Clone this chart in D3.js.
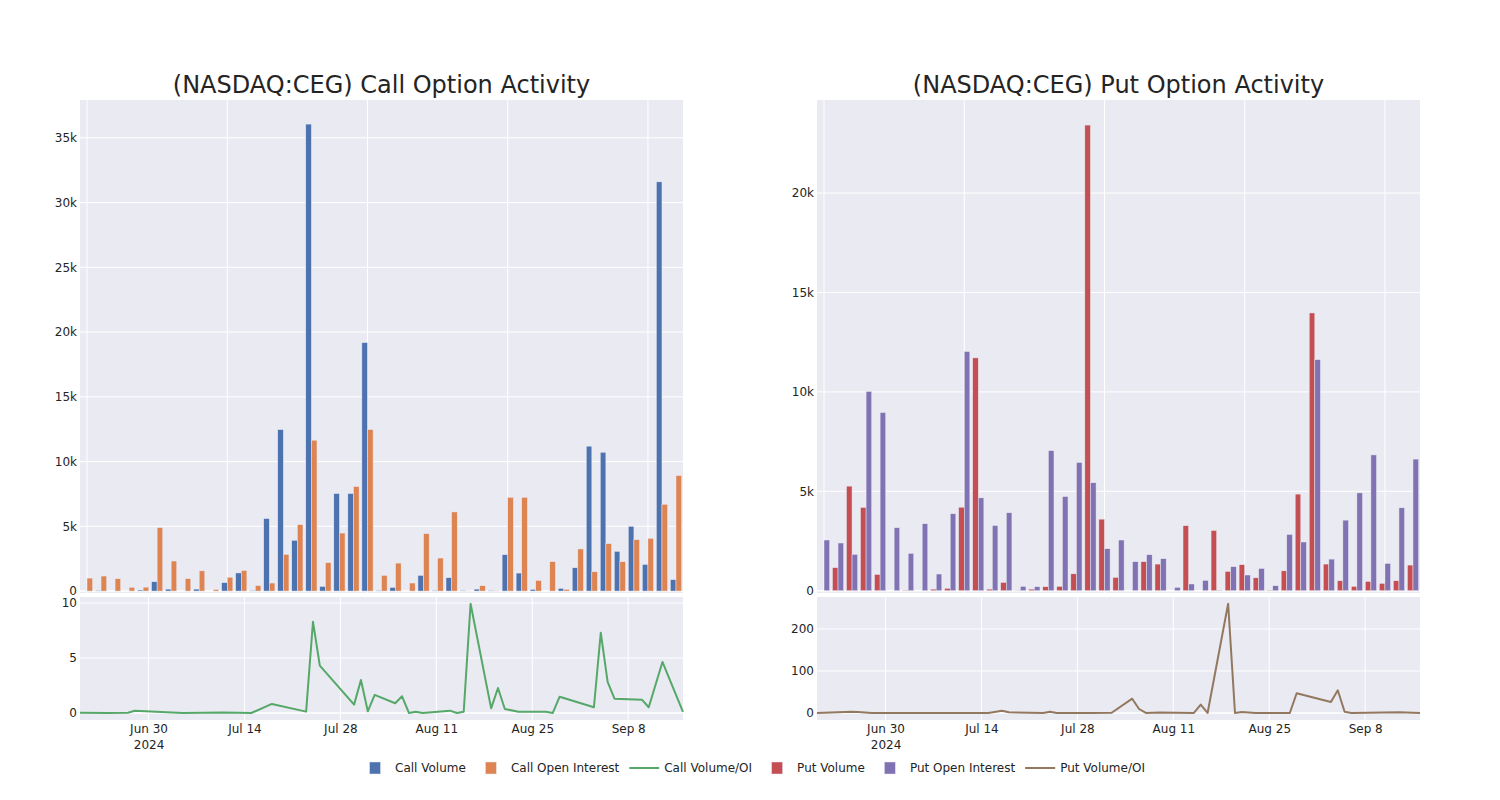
<!DOCTYPE html>
<html><head><meta charset="utf-8">
<script src="https://cdn.jsdelivr.net/npm/d3@7"></script>
<style>
body{margin:0;background:#fff;}
text{font-family:"DejaVu Sans",Verdana,sans-serif;fill:rgb(36,36,36);}
</style>
</head><body>
<svg id="chart" width="1500" height="800"></svg>
<script>
// ---------------- data ----------------
const categories = ["2024-06-20","2024-06-21","2024-06-24","2024-06-27","2024-06-28","2024-07-01","2024-07-02","2024-07-05","2024-07-09","2024-07-11","2024-07-15","2024-07-18",
  "2024-07-23","2024-07-24","2024-07-25","2024-07-30","2024-07-31","2024-08-01","2024-08-02","2024-08-05","2024-08-06","2024-08-07","2024-08-08","2024-08-09",
  "2024-08-13","2024-08-14","2024-08-15","2024-08-16","2024-08-19","2024-08-20","2024-08-21","2024-08-23","2024-08-27","2024-08-28","2024-08-29",
  "2024-09-03","2024-09-04","2024-09-05","2024-09-06","2024-09-10","2024-09-11","2024-09-13","2024-09-16"];
const callVolume = [0,50,0,0,80,720,150,0,150,0,650,1400,50,5600,12470,3920,36060,360,7530,7530,19180,50,280,0,1210,50,1030,50,150,50,2810,1390,130,0,210,1800,11190,10720,3070,5000,2060,31600,880];
const callOpenInterest = [1000,1160,950,290,300,4900,2320,960,1560,120,1070,1590,420,620,2840,5130,11650,2190,4480,8070,12470,1210,2160,620,4430,2550,6110,5,410,20,7240,7240,820,2270,130,3250,1490,3660,2270,3970,4070,6700,8920];
const putVolume = [0,1160,5260,4190,820,0,20,0,80,120,4200,11710,80,420,10,80,200,220,850,23420,3600,670,0,1460,1340,0,3270,0,3030,970,1310,650,20,1000,4860,13970,1340,500,220,470,370,500,1290];
const putOpenInterest = [2550,2400,1830,10020,8960,3170,1880,3370,840,3870,12030,4670,3280,3920,220,200,7050,4740,6450,5430,2110,2550,1460,1810,1610,170,340,520,20,1210,790,1120,250,2830,2450,11620,1590,3550,4920,6830,1370,4170,6620];

const callRatioDates = ["2024-06-20","2024-06-24","2024-06-27","2024-06-28","2024-07-05","2024-07-11","2024-07-15","2024-07-18","2024-07-23","2024-07-24","2024-07-25","2024-07-30","2024-07-31","2024-08-01","2024-08-02","2024-08-05","2024-08-06","2024-08-07","2024-08-08","2024-08-09","2024-08-13","2024-08-14","2024-08-15","2024-08-16","2024-08-19","2024-08-20","2024-08-21","2024-08-23","2024-08-27","2024-08-28","2024-08-29","2024-09-03","2024-09-04","2024-09-05","2024-09-06","2024-09-10","2024-09-11","2024-09-13","2024-09-16"];
const callRatio = [0.02,0.0,0.02,0.2,0.0,0.04,0.0,0.82,0.12,8.3,4.3,0.76,3.0,0.15,1.64,0.88,1.52,0.0,0.12,0.0,0.21,0.0,0.12,9.94,0.42,2.27,0.36,0.12,0.12,0.0,1.48,0.52,7.3,2.82,1.3,1.21,0.52,4.64,0.09];

const putRatioDates = ["2024-06-20","2024-06-25","2024-06-26","2024-06-28","2024-07-05","2024-07-11","2024-07-15","2024-07-17","2024-07-18","2024-07-23","2024-07-24","2024-07-25","2024-07-30","2024-08-02","2024-08-05","2024-08-06","2024-08-07","2024-08-09","2024-08-14","2024-08-15","2024-08-16","2024-08-19","2024-08-20","2024-08-21","2024-08-23","2024-08-28","2024-08-29","2024-09-03","2024-09-04","2024-09-05","2024-09-06","2024-09-13","2024-09-16"];
const putRatio = [0,3,2.4,0,0,0,0,5.5,1.6,0,3,0,0,0.5,34,9.5,0,1,0,20,0,260,0,2.4,0,0,47,26,54,3,0,1.6,0];

const dateTicks = ["2024-06-30","2024-07-14","2024-07-28","2024-08-11","2024-08-25","2024-09-08"];
const callYTicks = [0,5000,10000,15000,20000,25000,30000,35000];
const putYTicks = [0,5000,10000,15000,20000];
const callRatioTicks = [0,5,10];
const putRatioTicks = [0,100,200];
const titles = ["(NASDAQ:CEG) Call Option Activity","(NASDAQ:CEG) Put Option Activity"];
const legendLabels = ["Call Volume","Call Open Interest","Call Volume/OI","Put Volume","Put Open Interest","Put Volume/OI"];

// ---------------- drawing ----------------
const FONT = "'DejaVu Sans',Verdana,sans-serif";
const parse = d3.timeParse("%Y-%m-%d");
const svg = d3.select("#chart");
const BG = "rgb(234,234,242)";
const C = {cv:"rgb(76,114,176)", co:"rgb(221,132,82)", cl:"rgb(85,168,104)",
           pv:"rgb(196,78,82)", po:"rgb(129,114,179)", pl:"rgb(147,120,96)"};

function styleAxis(a){
  a.select(".domain").remove();
  a.selectAll("text").style("font-size","12px").style("font-family",FONT).attr("fill","rgb(36,36,36)");
}

function panel(o){
  const g = svg.append("g");
  const mainTop=100, mainBot=593, lowTop=597, lowBot=720;
  g.append("rect").attr("x",o.x0).attr("y",mainTop).attr("width",o.x1-o.x0).attr("height",mainBot-mainTop).attr("fill",BG);
  g.append("rect").attr("x",o.x0).attr("y",lowTop).attr("width",o.x1-o.x0).attr("height",lowBot-lowTop).attr("fill",BG);

  const xb = d3.scaleBand().domain(categories).range([o.x0,o.x1]).paddingInner(0.2).paddingOuter(0.1);
  const xi = d3.scaleBand().domain(["vol","oi"]).range([0,xb.bandwidth()]);
  const y = d3.scaleLinear().domain(o.yDom).range([mainBot,mainTop]);

  categories.forEach((c,i)=>{ if(i%10===0){
    const cx = xb(c)+xb.bandwidth()/2;
    g.append("line").attr("x1",cx).attr("x2",cx).attr("y1",mainTop).attr("y2",mainBot).attr("stroke","#fff").attr("stroke-width",1);
  }});
  o.yTicks.forEach(t=>{
    g.append("line").attr("x1",o.x0).attr("x2",o.x1).attr("y1",y(t)).attr("y2",y(t)).attr("stroke","#fff").attr("stroke-width",t===0?1.5:1);
  });
  const ya = g.append("g").attr("transform",`translate(${o.x0},0)`)
    .call(d3.axisLeft(y).tickValues(o.yTicks).tickSize(0).tickPadding(3).tickFormat(d3.format("~s")));
  styleAxis(ya);

  const rows = categories.map((c,i)=>({c, vol:o.vol[i], oi:o.oi[i]}));
  const grp = g.selectAll(".grp").data(rows).enter().append("g").attr("transform",d=>`translate(${xb(d.c)},0)`);
  [["vol",o.cVol],["oi",o.cOi]].forEach(([k,col])=>{
    grp.append("rect").attr("x",xi(k)).attr("width",xi.bandwidth())
      .attr("y",d=>y(Math.max(0,d[k]))).attr("height",d=>Math.max(0,y(0)-y(d[k])))
      .attr("fill",col).attr("stroke",BG).attr("stroke-width",0.5);
  });

  g.append("text").attr("x",(o.x0+o.x1)/2).attr("y",93).attr("text-anchor","middle")
    .style("font-size","24px").style("font-family",FONT).text(o.title);

  const xt = d3.scaleTime().domain([parse("2024-06-20"),parse("2024-09-16")]).range([o.x0,o.x1]);
  const yl = d3.scaleLinear().domain(o.lDom).range([lowBot,lowTop]);
  dateTicks.forEach(t=>{
    const xx = xt(parse(t));
    g.append("line").attr("x1",xx).attr("x2",xx).attr("y1",lowTop).attr("y2",lowBot).attr("stroke","#fff").attr("stroke-width",1);
  });
  o.lTicks.forEach(t=>{
    g.append("line").attr("x1",o.x0).attr("x2",o.x1).attr("y1",yl(t)).attr("y2",yl(t)).attr("stroke","#fff").attr("stroke-width",t===0?1.5:1);
  });
  const yla = g.append("g").attr("transform",`translate(${o.x0},0)`)
    .call(d3.axisLeft(yl).tickValues(o.lTicks).tickSize(0).tickPadding(3).tickFormat(d3.format("~s")));
  styleAxis(yla);

  const xa = g.append("g").attr("transform",`translate(0,${lowBot})`)
    .call(d3.axisBottom(xt).tickValues(dateTicks.map(parse)).tickSize(0).tickPadding(4).tickFormat(d3.timeFormat("%b %-d")));
  styleAxis(xa);
  xa.selectAll(".tick").filter((d,i)=>i===0).append("text")
    .attr("y",20).attr("dy","0.71em").attr("text-anchor","middle").style("font-size","12px").style("font-family",FONT)
    .attr("fill","rgb(36,36,36)").text("2024");

  const pts = o.rDates.map((d,i)=>({d:parse(d), v:o.rVals[i]}));
  g.append("path").datum(pts).attr("fill","none").attr("stroke",o.cLine).attr("stroke-width",2).attr("stroke-linejoin","round")
    .attr("d",d3.line().x(p=>xt(p.d)).y(p=>yl(p.v)));
}

panel({x0:80,x1:683,yDom:[-150,37920],yTicks:callYTicks,vol:callVolume,oi:callOpenInterest,cVol:C.cv,cOi:C.co,
  title:titles[0],lDom:[-0.64,10.55],lTicks:callRatioTicks,rDates:callRatioDates,rVals:callRatio,cLine:C.cl});
panel({x0:817,x1:1420,yDom:[-115,24680],yTicks:putYTicks,vol:putVolume,oi:putOpenInterest,cVol:C.pv,cOi:C.po,
  title:titles[1],lDom:[-16.7,276],lTicks:putRatioTicks,rDates:putRatioDates,rVals:putRatio,cLine:C.pl});

// legend
const legCols = [C.cv,C.co,C.cl,C.pv,C.po,C.pl];
const legTypes = ["bar","bar","line","bar","bar","line"];
const leg = svg.append("g");
let cx = 0;
legendLabels.forEach((lab,i)=>{
  const it = leg.append("g").attr("transform",`translate(${cx},0)`);
  if(legTypes[i]==="bar"){
    it.append("rect").attr("x",14.5).attr("y",-6).attr("width",11).attr("height",12).attr("fill",legCols[i]).attr("stroke",BG).attr("stroke-width",0.5);
  } else {
    it.append("line").attr("x1",5).attr("x2",35).attr("y1",0).attr("y2",0).attr("stroke",legCols[i]).attr("stroke-width",2);
  }
  const t = it.append("text").attr("x",40).attr("y",0).attr("dy","0.35em").style("font-size","12px").style("font-family",FONT).text(lab);
  cx += 40 + t.node().getComputedTextLength() + 5;
});
const legW = cx - 5;
leg.attr("transform",`translate(${750 - legW/2},768)`);
</script>
</body></html>
